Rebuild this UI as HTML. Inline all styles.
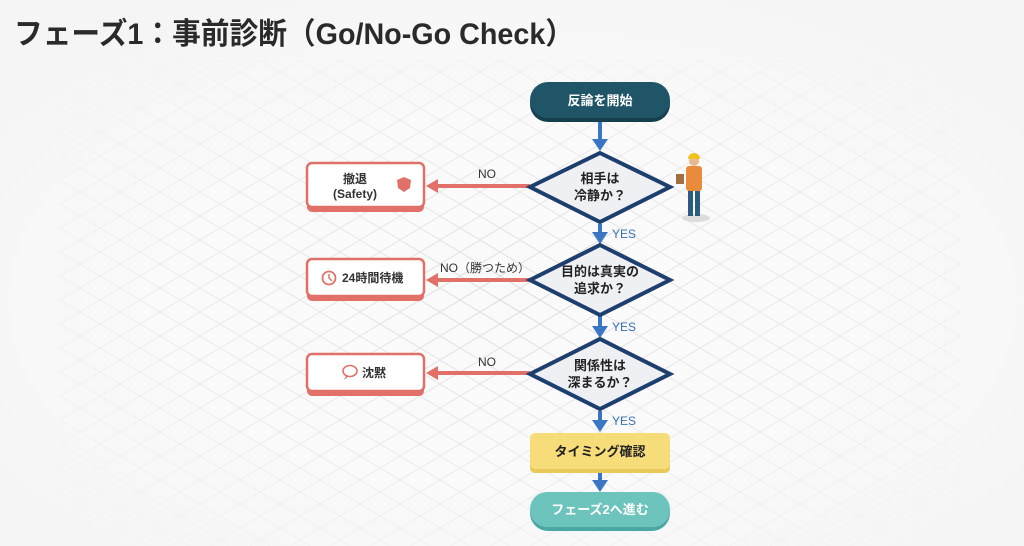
<!DOCTYPE html>
<html><head><meta charset="utf-8"><style>
html,body{margin:0;padding:0;width:1024px;height:546px;overflow:hidden;background:#f5f5f5}
svg{display:block}
text{font-family:"Liberation Sans","Noto Sans CJK JP",sans-serif}
</style></head><body>
<svg width="1024" height="546" viewBox="0 0 1024 546" xmlns="http://www.w3.org/2000/svg">
<defs>
<pattern id="g" width="40" height="24" patternUnits="userSpaceOnUse">
<path d="M0 0 L40 24 M40 0 L0 24" stroke="#dcdcdc" stroke-width="1"/>
</pattern>
<radialGradient id="rg" cx="0.5" cy="0.55" r="0.6"><stop offset="0" stop-color="#fff" stop-opacity="0"/><stop offset="1" stop-color="#f5f5f5" stop-opacity="1"/></radialGradient>
</defs>
<rect width="1024" height="546" fill="#fafafa"/>
<rect x="60" y="60" width="900" height="486" fill="url(#g)"/>
<rect x="0" y="0" width="1024" height="546" fill="url(#rg)"/>
<text x="14" y="44" font-size="30" font-weight="bold" fill="#2a2a2a" textLength="560" lengthAdjust="spacingAndGlyphs">フェーズ1：事前診断（Go/No-Go Check）</text>

<g stroke="#3b76c4" stroke-width="4" fill="#3b76c4">
<line x1="600" y1="122" x2="600" y2="140"/><path d="M592 139 L608 139 L600 151z" stroke="none"/>
<line x1="600" y1="224" x2="600" y2="233"/><path d="M592 232 L608 232 L600 244z" stroke="none"/>
<line x1="600" y1="316" x2="600" y2="327"/><path d="M592 326 L608 326 L600 338z" stroke="none"/>
<line x1="600" y1="411" x2="600" y2="421"/><path d="M592 420 L608 420 L600 432z" stroke="none"/>
<line x1="600" y1="473" x2="600" y2="481"/><path d="M592 480 L608 480 L600 492z" stroke="none"/>
</g>
<g font-size="12" fill="#3a6fb5"><text x="612" y="238">YES</text><text x="612" y="331">YES</text><text x="612" y="425">YES</text></g>

<g stroke="#e07068" stroke-width="4" fill="#e07068">
<line x1="530" y1="186" x2="438" y2="186"/><path d="M438 179 L438 193 L426 186z" stroke="none"/>
<line x1="530" y1="280" x2="438" y2="280"/><path d="M438 273 L438 287 L426 280z" stroke="none"/>
<line x1="530" y1="373" x2="438" y2="373"/><path d="M438 366 L438 380 L426 373z" stroke="none"/>
</g>
<g font-size="12" fill="#333"><text x="478" y="178">NO</text><text x="440" y="272">NO（勝つため）</text><text x="478" y="366">NO</text></g>

<rect x="530" y="86" width="140" height="36" rx="18" fill="#163f4d"/>
<rect x="530" y="82" width="140" height="36" rx="18" fill="#1f5566"/>
<text x="600" y="105" font-size="13" font-weight="bold" fill="#fff" text-anchor="middle">反論を開始</text>

<g stroke="#1d3f6e" stroke-width="4" fill="#eef0f3">
<path d="M600 153 L670 187 L600 222 L530 187z"/>
<path d="M600 245 L670 280 L600 315 L530 280z"/>
<path d="M600 339 L670 374 L600 409 L530 374z"/>
</g>
<g font-size="13" font-weight="bold" fill="#222" text-anchor="middle">
<text x="600" y="183">相手は</text><text x="600" y="200">冷静か？</text>
<text x="600" y="276">目的は真実の</text><text x="600" y="293">追求か？</text>
<text x="600" y="370">関係性は</text><text x="600" y="387">深まるか？</text>
</g>

<g>
<rect x="307" y="166" width="117" height="46" rx="5" fill="#e07068"/>
<rect x="307" y="163" width="117" height="44" rx="5" fill="#fff" stroke="#e07068" stroke-width="2.5"/>
<rect x="307" y="262" width="117" height="39" rx="5" fill="#e07068"/>
<rect x="307" y="259" width="117" height="37" rx="5" fill="#fff" stroke="#e07068" stroke-width="2.5"/>
<rect x="307" y="357" width="117" height="39" rx="5" fill="#e07068"/>
<rect x="307" y="354" width="117" height="37" rx="5" fill="#fff" stroke="#e07068" stroke-width="2.5"/>
</g>
<g font-size="12" font-weight="bold" fill="#333">
<text x="355" y="183" text-anchor="middle">撤退</text><text x="355" y="198" text-anchor="middle">(Safety)</text>
<text x="342" y="282">24時間待機</text>
<text x="362" y="377">沈黙</text>
</g>
<path d="M404 177 L411 180 L410 188 L404 192 L398 188 L397 180z" fill="#e07068"/>
<circle cx="329" cy="278" r="6.5" fill="none" stroke="#e07068" stroke-width="1.8"/><path d="M329 274 L329 278 L332 281" stroke="#e07068" fill="none" stroke-width="1.5"/>
<ellipse cx="350" cy="371" rx="7" ry="5.5" fill="none" stroke="#e07068" stroke-width="1.6"/><path d="M346 376 L344 380 L349 376" fill="#e07068"/>

<rect x="530" y="436" width="140" height="37" rx="5" fill="#e9c95a"/>
<rect x="530" y="433" width="140" height="36" rx="5" fill="#f7dd7a"/>
<text x="600" y="456" font-size="13" font-weight="bold" fill="#222" text-anchor="middle">タイミング確認</text>
<rect x="530" y="495" width="140" height="36" rx="18" fill="#4aa7a1"/>
<rect x="530" y="492" width="140" height="35" rx="17" fill="#6cc4bd"/>
<text x="600" y="514" font-size="13" font-weight="bold" fill="#fff" text-anchor="middle">フェーズ2へ進む</text>

<ellipse cx="696" cy="218" rx="14" ry="4" fill="#ddd"/>
<rect x="688" y="190" width="5" height="26" fill="#2b5b80"/><rect x="695" y="190" width="5" height="26" fill="#2b5b80"/>
<rect x="686" y="166" width="16" height="25" rx="3" fill="#e88b3a"/>
<circle cx="694" cy="161" r="5" fill="#e9b98f"/>
<path d="M688 159 A6 6 0 0 1 700 159z" fill="#f2c21b"/>
<rect x="676" y="174" width="8" height="10" fill="#a07040"/>
</svg>
</body></html>
